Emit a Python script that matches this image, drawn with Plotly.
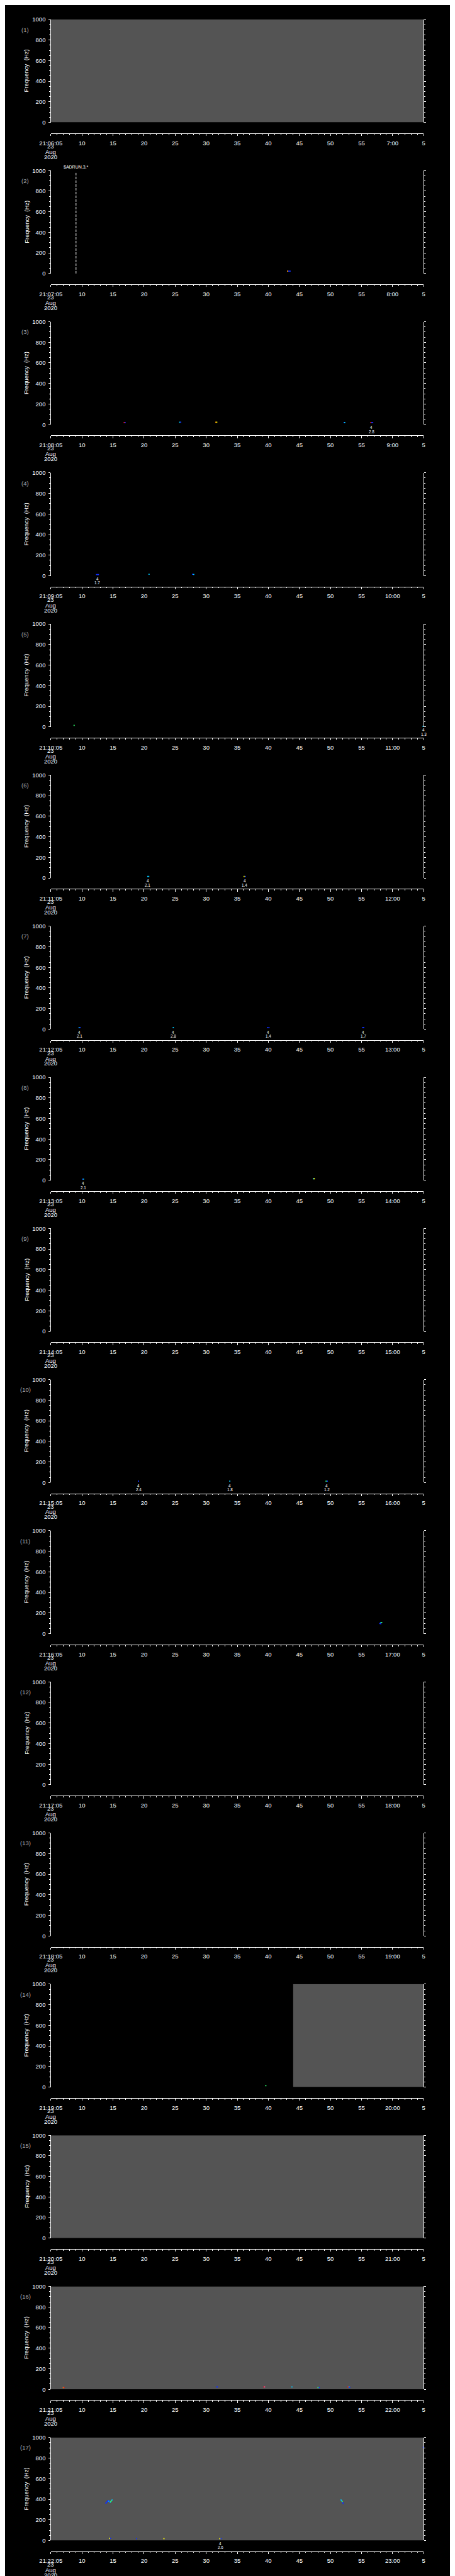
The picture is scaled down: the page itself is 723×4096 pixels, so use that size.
import plotly.graph_objects as go

# ---------------- reference geometry (reference pixels, 1024 x 5802) ----------------
W_REF, H_REF = 1024, 5802
FIG_W, FIG_H = 723, 4096
S = FIG_W / W_REF

PLOT_LEFT, PLOT_RIGHT = 80, 944
FIRST_TOP = 24.0
PANEL_STEP = 341.31
PANEL_H = 232.5
AXIS_GAP = 24.5

# ---------------- data ----------------
N_PANELS = 17
PANEL_LABELS = ["(%d)" % i for i in range(1, N_PANELS + 1)]
START_MINUTE = list(range(6, 6 + N_PANELS))     # panel start 21:MM:05
X_TICKS = list(range(0, 61, 5))                 # seconds after panel start
X_MINOR = [t for t in range(0, 61) if t % 5]
Y_TICKS = [0, 200, 400, 600, 800, 1000]
Y_MINOR = [f for f in range(0, 1001, 50) if f % 200]
DATE_LINES = ["23", "Aug", "2020"]

# grey (valid, low-level) coverage in seconds after panel start
GREY_SPANS = {1: [(0, 60)], 14: [(39.0, 60)], 15: [(0, 60)], 16: [(0, 60)], 17: [(0, 60)]}

BLUE, CYAN, GREEN, YELLOW, ORANGE, RED, PINK = (
    "#1030ff", "#00c8ff", "#30ff70", "#ffff00", "#ff9a00", "#ff1010", "#ff50a0")

# spectrogram pixels: (seconds, Hz, colour)
SPECKS = {
    2: [(38.1, 23, ORANGE), (38.3, 23, BLUE), (38.5, 23, BLUE)],
    3: [(11.8, 20, RED), (11.95, 20, BLUE), (20.75, 24, CYAN), (20.9, 24, BLUE),
        (26.55, 24, ORANGE), (26.7, 24, YELLOW), (47.2, 20, BLUE), (47.3, 20, CYAN),
        (51.5, 20, RED), (51.65, 20, BLUE), (51.8, 20, BLUE)],
    4: [(7.35, 11, BLUE), (7.5, 11, BLUE), (7.65, 11, BLUE), (15.8, 15, CYAN),
        (22.8, 15, BLUE), (23.0, 13, CYAN)],
    5: [(3.74, 15, GREEN), (59.9, 6, CYAN)],
    6: [(15.6, 15, CYAN), (15.75, 15, CYAN), (31.1, 15, YELLOW), (31.3, 15, BLUE)],
    7: [(4.55, 15, CYAN), (4.7, 15, BLUE), (19.7, 15, CYAN), (34.9, 15, BLUE),
        (35.1, 15, BLUE), (50.2, 15, BLUE), (50.35, 15, BLUE)],
    8: [(5.1, 11, BLUE), (5.25, 11, CYAN), (42.25, 15, CYAN), (42.4, 15, YELLOW)],
    10: [(14.1, 13, BLUE), (28.8, 13, CYAN), (44.3, 13, GREEN), (44.5, 13, BLUE)],
    11: [(52.95, 100, BLUE), (53.1, 105, CYAN), (53.25, 108, GREEN), (53.1, 96, BLUE)],
    14: [(34.6, 14, GREEN)],
    16: [(2.0, 17, ORANGE), (2.1, 17, RED), (26.7, 23, BLUE), (26.8, 23, BLUE),
         (34.3, 23, RED), (34.4, 23, PINK), (38.8, 23, CYAN), (43.0, 17, GREEN),
         (43.2, 17, BLUE), (47.8, 23, RED), (48.0, 23, CYAN), (48.1, 19, BLUE)],
    17: [(8.85, 362, BLUE), (8.95, 368, BLUE), (9.05, 376, BLUE), (9.15, 384, BLUE),
         (9.25, 387, BLUE), (9.35, 381, CYAN), (9.45, 375, BLUE), (9.55, 372, CYAN),
         (9.65, 378, GREEN), (9.75, 386, GREEN), (9.85, 393, CYAN),
         (46.7, 393, CYAN), (46.8, 386, CYAN), (46.9, 378, GREEN), (46.98, 368, BLUE),
         (47.05, 357, BLUE),
         (9.45, 21, YELLOW), (9.6, 21, BLUE), (13.8, 17, BLUE), (18.2, 17, YELLOW),
         (27.2, 17, YELLOW), (27.4, 17, BLUE), (59.95, 905, BLUE)],
}

# burst labels under the plot: (seconds, second line); first line is always "4"
BURST_LABELS = {
    3: [(51.6, "2.8")],
    4: [(7.5, "1.7")],
    5: [(60.0, "1.3")],
    6: [(15.6, "2.1"), (31.2, "1.4")],
    7: [(4.6, "2.1"), (19.7, "2.8"), (35.0, "1.4"), (50.3, "1.7")],
    8: [(5.2, "2.1")],
    10: [(14.1, "2.4"), (28.8, "1.8"), (44.4, "1.2")],
    17: [(27.3, "2.6")],
}
BURST_TOP = "4"

# event marker (panel, seconds, label)
EVENT = (2, 4.05, "$ADRUN,3,*")

# ---------------- helpers ----------------
FONT = "Liberation Sans"
FS = 9.5


def ypap(px):
    return 1 - px / H_REF


def xpap(px):
    return px / W_REF


fig = go.Figure()
layout = dict(
    width=FIG_W, height=FIG_H, margin=dict(l=0, r=0, t=0, b=0),
    paper_bgcolor="black", plot_bgcolor="black", showlegend=False,
    font=dict(family=FONT, color="white", size=FS),
)
annotations = []

for k in range(1, N_PANELS + 1):
    top = FIRST_TOP + (k - 1) * PANEL_STEP
    bot = top + PANEL_H
    axline = bot + AXIS_GAP
    xa, ya = "x%d" % k, "y%d" % k
    xkey = "xaxis" if k == 1 else "xaxis%d" % k
    ykey = "yaxis" if k == 1 else "yaxis%d" % k
    m = START_MINUTE[k - 1]
    ticktext = ["21:%02d:05" % m] + [str(v) for v in range(10, 60, 5)] + ["%d:00" % (m + 1), "5"]

    layout[xkey] = dict(
        domain=[xpap(PLOT_LEFT), xpap(PLOT_RIGHT)], anchor="free", position=ypap(axline),
        range=[0, 60], tickmode="array", tickvals=X_TICKS, ticktext=ticktext,
        ticks="outside", ticklen=3.3, tickwidth=1, tickcolor="white",
        showline=True, linecolor="white", linewidth=1, showgrid=False, zeroline=False,
        tickfont=dict(family=FONT, size=FS, color="white"), ticklabelstandoff=3,
        minor=dict(tickmode="array", tickvals=X_MINOR, ticks="outside", ticklen=1.7,
                   tickwidth=1, tickcolor="white", showgrid=False),
        fixedrange=True,
    )
    layout[ykey] = dict(
        domain=[ypap(bot), ypap(top)], anchor=xa, range=[0, 1000],
        tickmode="array", tickvals=Y_TICKS, ticks="outside", ticklen=2.5, tickwidth=1,
        tickcolor="white", showline=True, linecolor="white", linewidth=1, mirror="ticks",
        showgrid=False, zeroline=False, tickfont=dict(family=FONT, size=FS, color="white"),
        ticklabelstandoff=3,
        minor=dict(tickmode="array", tickvals=Y_MINOR, ticks="outside", ticklen=1.5,
                   tickwidth=1, tickcolor="white", showgrid=False),
        fixedrange=True,
    )

    # placeholder so every subplot is created
    fig.add_trace(go.Scatter(x=[None], y=[None], xaxis=xa, yaxis=ya, mode="markers",
                             hoverinfo="skip"))

    for (t0, t1) in GREY_SPANS.get(k, []):
        fig.add_trace(go.Scatter(
            x=[t0, t1, t1, t0, t0], y=[0, 0, 1000, 1000, 0], xaxis=xa, yaxis=ya,
            mode="lines", fill="toself", fillcolor="#545454", line=dict(width=0),
            hoverinfo="skip"))

    if k in SPECKS:
        pts = SPECKS[k]
        fig.add_trace(go.Scatter(
            x=[p[0] for p in pts], y=[p[1] for p in pts], xaxis=xa, yaxis=ya,
            mode="markers", marker=dict(symbol="square", size=1.8,
                                        color=[p[2] for p in pts], line=dict(width=0)),
            hoverinfo="skip"))

    if EVENT[0] == k:
        fig.add_trace(go.Scatter(
            x=[EVENT[1], EVENT[1]], y=[0, 985], xaxis=xa, yaxis=ya, mode="lines",
            line=dict(color="white", width=1, dash="4px,2px"), hoverinfo="skip"))
        annotations.append(dict(
            x=EVENT[1], xref=xa, y=ypap(top - 8.3), yref="paper", text=EVENT[2],
            showarrow=False, xanchor="center", yanchor="middle",
            font=dict(family=FONT, size=7, color="white")))

    for (t, lab) in BURST_LABELS.get(k, []):
        for txt, dy in ((BURST_TOP, 6.7), (lab, 16.3)):
            annotations.append(dict(
                x=t, xref=xa, y=ypap(bot + dy), yref="paper", text=txt, showarrow=False,
                xanchor="center", yanchor="middle",
                font=dict(family=FONT, size=6.3, color="white")))

    # panel number and axis title
    annotations.append(dict(
        x=xpap(21), xref="paper", y=ypap(top + 23), yref="paper", text=PANEL_LABELS[k - 1],
        showarrow=False, xanchor="center", yanchor="middle",
        font=dict(family=FONT, size=9.5, color="#a8a8a8")))
    annotations.append(dict(
        x=xpap(23), xref="paper", y=ypap((top + bot) / 2), yref="paper",
        text="Frequency  (Hz)", textangle=-90, showarrow=False,
        xanchor="center", yanchor="middle", font=dict(family=FONT, size=9.5, color="white")))

    # date lines under the first time label
    for txt, dy in zip(DATE_LINES, (29.0, 41.7, 53.0)):
        annotations.append(dict(
            x=0, xref=xa, y=ypap(axline + dy), yref="paper", text=txt, showarrow=False,
            xanchor="center", yanchor="middle", font=dict(family=FONT, size=FS, color="white")))

layout["annotations"] = annotations
fig.update_layout(**layout)
fig.write_html("out.html")
